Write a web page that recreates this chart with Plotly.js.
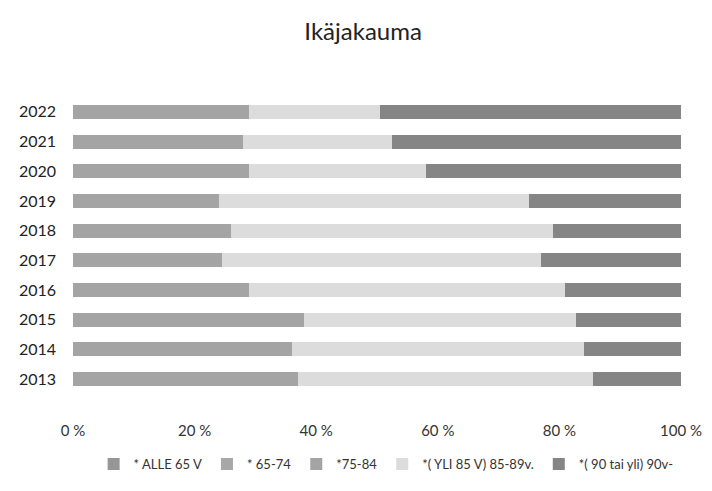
<!DOCTYPE html>
<html>
<head>
<meta charset="utf-8">
<script src="https://cdn.plot.ly/plotly-3.0.1.min.js"></script>
<style>html,body{margin:0;padding:0;background:#fff;}#chart{width:712px;height:491px;}</style>
</head>
<body>
<div id="chart"></div>
<script>
const years = ['2013','2014','2015','2016','2017','2018','2019','2020','2021','2022'];
const seriesNames = ['* ALLE 65 V', '* 65-74', '*75-84', '*( YLI 85 V) 85-89v.', '*( 90 tai yli) 90v-'];
const alle65 = [0,0,0,0,0,0,0,0,0,0];
const v65_74 = [0,0,0,0,0,0,0,0,0,0];
const v75_84 = [37,36,38,29,24.5,26,24,29,28,29];
const v85_89 = [48.5,48,44.7,52,52.5,53,51,29,24.5,21.5];
const v90 = [14.5,16,17.3,19,23,21,25,42,47.5,49.5];
const tickVals = [0,0.2,0.4,0.6,0.8,1];
const tickText = ['0 %','20 %','40 %','60 %','80 %','100 %'];

const colors = ['#969696','#a8a8a8','#a4a4a4','#dcdcdc','#858585'];
const allSeries = [alle65, v65_74, v75_84, v85_89, v90];
const data = allSeries.map((vals, i) => ({
  type: 'bar',
  orientation: 'h',
  name: seriesNames[i],
  y: years,
  x: vals.map((v, k) => v / (alle65[k]+v65_74[k]+v75_84[k]+v85_89[k]+v90[k])),
  marker: {color: colors[i], line: {width: 0}},
  hoverinfo: 'name+x'
}));

const font = 'Lato, "Open Sans", sans-serif';
const layout = {
  width: 712, height: 491,
  paper_bgcolor: '#fff', plot_bgcolor: '#fff',
  barmode: 'stack',
  bargap: 0.53,
  margin: {l: 73, r: 31, t: 97, b: 93},
  title: {text: 'Ikäjakauma', x: 0.51, xanchor: 'center', y: 0.935, yanchor: 'middle',
          font: {family: font, size: 24, color: '#222'}},
  font: {family: font, color: '#222'},
  xaxis: {range: [0, 1], tickmode: 'array', tickvals: tickVals, ticktext: tickText, showgrid: false, zeroline: false,
          showline: false, ticks: '', ticklabelstandoff: 26, tickfont: {size: 15, color: '#333'}},
  yaxis: {tickmode: 'array', tickvals: years, ticktext: years, showgrid: false, zeroline: false, showline: false,
          ticks: '', ticklabelstandoff: 16, tickfont: {size: 16, color: '#222'}},
  legend: {orientation: 'h', x: 0.515, xanchor: 'center', y: -0.185, yanchor: 'top',
           font: {size: 13, color: '#333'}, traceorder: 'normal', itemwidth: 30},
  showlegend: true
};
Plotly.newPlot('chart', data, layout, {displayModeBar: false, staticPlot: true});
</script>
</body>
</html>
